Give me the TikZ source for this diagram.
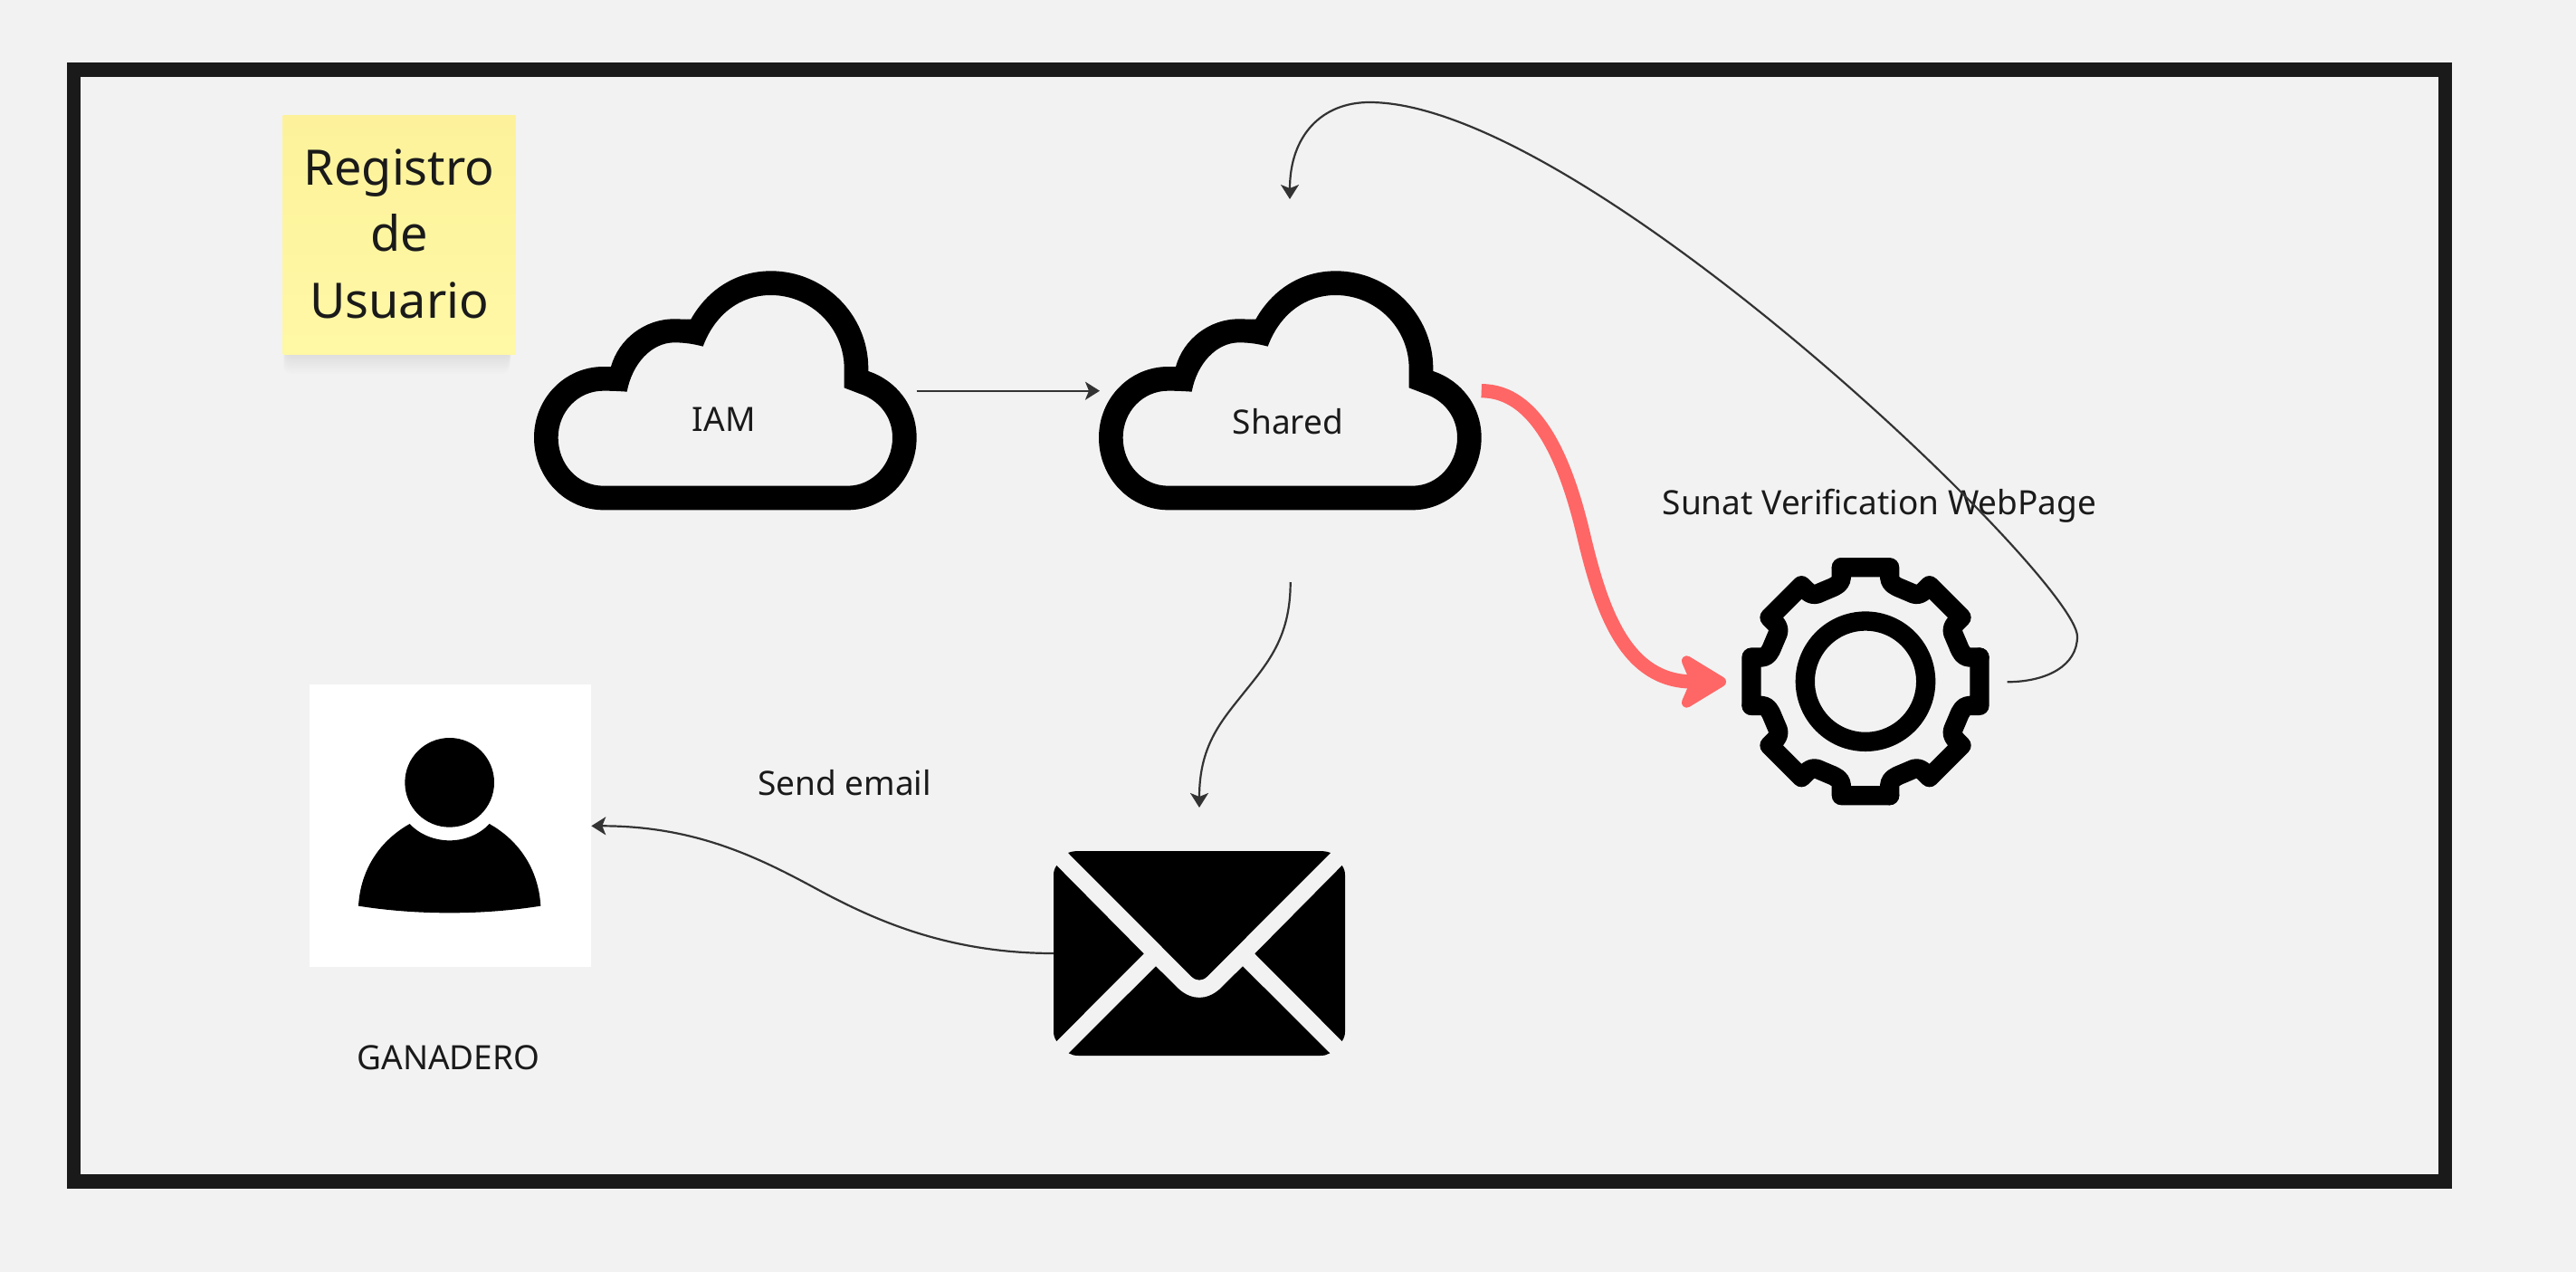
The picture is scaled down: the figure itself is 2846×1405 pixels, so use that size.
\documentclass[tikz,border=0pt]{standalone}
\usepackage{fontspec}
\setmainfont{Noto Sans}
\usetikzlibrary{arrows.meta}
\definecolor{pagebg}{HTML}{F2F2F2}
\definecolor{framecol}{HTML}{1A1A1A}
\definecolor{linecol}{HTML}{333333}
\definecolor{redcol}{HTML}{FF6666}
\definecolor{inkcol}{HTML}{1A1A1A}
\definecolor{stickytop}{HTML}{FDF29B}
\definecolor{stickybot}{HTML}{FFF8A5}
\tikzset{
  lbl/.style={anchor=base,inner sep=0pt,text=inkcol,font=\fontsize{37}{44}\selectfont},
  conn/.style={draw=linecol,line width=2.2pt,-{Stealth[length=16pt,width=20pt,inset=4pt]}},
  redconn/.style={draw=redcol,line width=15.3pt,-{Stealth[length=60pt,width=72pt,inset=15pt,round]}},
  iconline/.style={draw=black,fill=none},
  pics/cloud/.style={code={
    \fill[black,even odd rule,scale=1/3]
      (320,880) -- (1130,880)
      .. controls (1256,880) and (1358,772) .. (1358,640)
      .. controls (1358,535) and (1290,450) .. (1198,420)
      -- (1198,411)
      .. controls (1198,233) and (1053,88) .. (875,88)
      .. controls (760,88) and (665,150) .. (610,248)
      .. controls (592,249) and (575,247) .. (555,247)
      .. controls (455,247) and (370,315) .. (345,405)
      .. controls (336,405) and (328,405) .. (320,405)
      .. controls (192,405) and (90,510) .. (90,640)
      .. controls (90,772) and (192,880) .. (320,880) -- cycle
      (320,800) -- (1130,800)
      .. controls (1212,800) and (1278,728) .. (1278,640)
      .. controls (1278,570) and (1232,515) .. (1170,495)
      -- (1118,475) -- (1118,411)
      .. controls (1118,277) and (1009,168) .. (875,168)
      .. controls (775,168) and (690,230) .. (650,338)
      .. controls (620,330) and (590,325) .. (555,325)
      .. controls (480,325) and (415,395) .. (398,488)
      .. controls (370,486) and (345,485) .. (320,485)
      .. controls (235,485) and (170,555) .. (170,640)
      .. controls (170,728) and (235,800) .. (320,800) -- cycle;
  }}
}
\begin{document}
\begin{tikzpicture}[x=1pt,y=-1pt]
\useasboundingbox (0,0) rectangle (2846,1405);
\fill[pagebg] (0,0) rectangle (2846,1405);
% frame
\draw[framecol,line width=15.5pt] (81.7,77.2) rectangle (2701.5,1304.8);
% sticky note shadow
\foreach \i in {1,...,10}
  \fill[black,opacity=0.007,rounded corners=8pt] ({316-\i*0.3},340) rectangle ({566-\i*0.3},{391+\i*2.2});
\node[minimum width=256.6pt,minimum height=264pt,inner sep=0pt,
      top color=stickytop,bottom color=stickybot] (sticky) at (441,259) {};
\node[inner sep=0pt,align=center,text=inkcol,font=\fontsize{54}{73.5}\selectfont] (stickytext) at (441,258)
  {Registro\\de\\Usuario};
% clouds
\pic at (560,270) {cloud};
\pic at (1184,270) {cloud};
\node[lbl] (iam) at (799.7,476.7) {IAM};
\node[lbl] (shared) at (1423,479) {Shared};
% gear
\begin{scope}[shift={(2061,752.7)},scale=1/3]
  \foreach \a in {0,90,180,270}
    \draw[iconline,line width=21.3pt,line cap=round,line join=round,rotate=\a]
      (-80,-378) -- (80,-378) -- (80,-345)
      .. controls (80,-325) and (97,-316) .. (120,-307)
      -- (160,-290)
      .. controls (175,-284) and (190,-295) .. (197,-303)
      -- (212,-318) -- (318,-212) -- (303,-197)
      .. controls (295,-190) and (284,-175) .. (290,-160)
      -- (307,-120)
      .. controls (316,-97) and (325,-80) .. (345,-80)
      -- (378,-80);
  \draw[iconline,line width=21.3pt] (0,0) circle[radius=200];
\end{scope}
\node[lbl] (sunat) at (2076.5,568) {Sunat Verification WebPage};
% envelope
\begin{scope}[shift={(1130,900)},scale=1/3]
  \fill[black] (150,126) .. controls (160,122) and (172,120) .. (185,120) -- (985,120)
     .. controls (998,120) and (1010,122) .. (1020,126) -- (612,535)
     .. controls (595,552) and (575,552) .. (558,535) -- cycle;
  \fill[black] (112,168) -- (401,460) -- (112,750) .. controls (105,740) and (102,730) .. (102,718)
     -- (102,200) .. controls (102,188) and (105,178) .. (112,168) -- cycle;
  \fill[black] (1058,168) -- (769,460) -- (1058,750) .. controls (1065,740) and (1068,730) .. (1068,718)
     -- (1068,200) .. controls (1068,188) and (1065,178) .. (1058,168) -- cycle;
  \fill[black] (152,790) -- (441,502) -- (518,578) .. controls (560,615) and (610,615) .. (652,578)
     -- (729,502) -- (1018,790) .. controls (1008,796) and (998,798) .. (985,798)
     -- (185,798) .. controls (172,798) and (162,796) .. (152,790) -- cycle;
\end{scope}
% user card
\fill[white] (342,756) rectangle (652.7,1068);
\begin{scope}[shift={(320,740)},scale=1/3]
  \fill[black] (530,373) circle[radius=148];
  \fill[black] (228,782) .. controls (235,660) and (300,565) .. (398,510)
     .. controls (430,545) and (480,565) .. (530,565)
     .. controls (580,565) and (630,545) .. (662,510)
     .. controls (760,565) and (825,660) .. (832,782)
     .. controls (730,798) and (630,805) .. (530,805)
     .. controls (430,805) and (330,798) .. (228,782) -- cycle;
\end{scope}
\node[lbl] (ganadero) at (495.5,1181) {GANADERO};
\node[lbl] (sendemail) at (933,878) {Send email};
% connector ends
\coordinate (iamout) at (1012.7,431.7);
\coordinate (sharedin) at (1215,431.7);
\coordinate (sharedred) at (1636.7,431.7);
\coordinate (gearin) at (1907,753);
\coordinate (gearout) at (2217.7,753.3);
\coordinate (loopend) at (1425,220);
\coordinate (sharedbottom) at (1425.7,643);
\coordinate (mailin) at (1325,892);
\coordinate (mailout) at (1164,1053);
\coordinate (userin) at (653.3,912.3);
% connectors
\draw[conn] (iamout) -- (sharedin);
\draw[redconn] (sharedred) .. controls (1697,431.7) and (1730,507) .. (1750,593)
   .. controls (1770,677) and (1797,753) .. (gearin);
\draw[conn] (gearout) .. controls (2262,753) and (2295,735) .. (2295,703)
   .. controls (2295,640) and (1750,113) .. (1513,113)
   .. controls (1460,113) and (1425,150) .. (loopend);
\draw[conn] (sharedbottom) .. controls (1425.7,705) and (1400,733) .. (1372,768)
   .. controls (1348,798) and (1325,825) .. (mailin);
\draw[conn] (mailout) .. controls (1050,1053) and (970,1018) .. (908,985)
   .. controls (840,948) and (770,912.3) .. (userin);
\end{tikzpicture}
\end{document}
